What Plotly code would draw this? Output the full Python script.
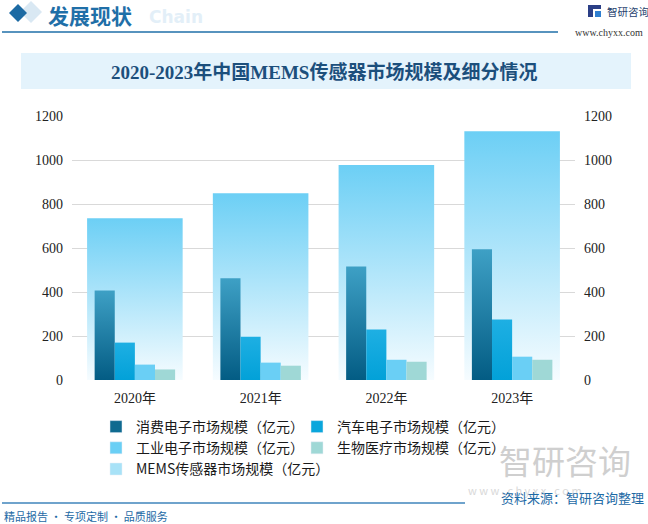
import plotly.graph_objects as go

# data (亿元)
years = ["2020年", "2021年", "2022年", "2023年"]
consumer = [407, 462, 516, 594]
auto = [170, 197, 229, 275]
industrial = [70, 79, 92, 106]
medical = [48, 65, 83, 92]
mems_total = [735, 849, 977, 1131]

series_names = [
    "消费电子市场规模（亿元）",
    "汽车电子市场规模（亿元）",
    "工业电子市场规模（亿元）",
    "生物医疗市场规模（亿元）",
]
mems_name = "MEMS传感器市场规模（亿元）"

CJK = "Noto Sans CJK SC"
SERIF = "Liberation Serif"

W, H = 648, 524
L, R, T, B = 72, 73, 116, 144


def px(x):
    """pixel column -> paper x"""
    return (x - L) / (W - L - R)


def py(y):
    """pixel row -> paper y"""
    return (H - B - y) / (H - T - B)


def bar_outline(i, value, offset, width):
    """Rectangle for category i, built from the data value."""
    x0, x1 = i + offset, i + offset + width
    return [x0, x0, x1, x1, x0], [0, value, value, 0, 0]


def gradient_bar(i, value, offset, width, bottom, top, xaxis, yaxis):
    xs, ys = bar_outline(i, value, offset, width)
    return go.Scatter(
        x=xs, y=ys, mode="none", fill="toself",
        fillgradient=dict(type="vertical", start=0, stop=value,
                          colorscale=[[0, bottom], [1, top]]),
        showlegend=False, hoverinfo="skip",
        xaxis=xaxis, yaxis=yaxis,
    )


fig = go.Figure()

# wide background bars: total MEMS market
for i, v in enumerate(mems_total):
    fig.add_trace(gradient_bar(i, v, -0.38, 0.76, "#f6fcff", "#6ccff5", "x", "y"))

# grouped segment bars (on overlay axes so they sit in front)
bw = 0.16
group_start = -2 * bw
styles = [
    ("#035c84", "#3ea0c5"),
    ("#02a1d8", "#1eafe3"),
    ("#6acff5", "#6acff5"),
    ("#9fd8d6", "#9fd8d6"),
]
for k, vals in enumerate([consumer, auto, industrial, medical]):
    bottom, top = styles[k]
    for i, v in enumerate(vals):
        fig.add_trace(gradient_bar(i, v, group_start + k * bw, bw, bottom, top, "x2", "y2"))

# legend entries
legend_colors = ["#0f6a90", "#0aa6dc", "#6acff5", "#9fd8d6", "#a8e2f7"]
for name, col in zip(series_names + [mems_name], legend_colors):
    fig.add_trace(go.Bar(x=[None], y=[None], name=name, marker_color=col,
                         xaxis="x2", yaxis="y2"))

axis_font = dict(family=SERIF, size=14, color="#222222")
fig.update_layout(
    width=W, height=H,
    margin=dict(l=L, r=R, t=T, b=B),
    paper_bgcolor="white", plot_bgcolor="white",
    barmode="overlay",
    xaxis=dict(range=[-0.5, 3.5], tickvals=list(range(len(years))), ticktext=years,
               showgrid=False, zeroline=False, showline=False, ticks="",
               ticklabelstandoff=8,
               tickfont=dict(family=SERIF + ", " + CJK, size=14, color="#222222")),
    xaxis2=dict(overlaying="x", matches="x", visible=False),
    yaxis=dict(range=[0, 1200], dtick=200, gridcolor="#d9d9d9", gridwidth=1,
               zeroline=False, showline=False, ticks="", ticklabelstandoff=8,
               tickfont=axis_font),
    yaxis2=dict(range=[0, 1200], dtick=200, overlaying="y", side="right",
                showgrid=False, zeroline=False, showline=False, ticks="",
                ticklabelstandoff=8, tickfont=axis_font),
    legend=dict(orientation="h", x=px(96), xanchor="left", y=py(411), yanchor="top",
                itemwidth=30, entrywidth=156, traceorder="normal",
                font=dict(family=CJK, size=14, color="#1a1a1a"),
                itemclick=False, tracegroupgap=0),
    showlegend=True,
)


def diamond(cx, cy, r, color):
    pts = [(cx, cy - r), (cx + r, cy), (cx, cy + r), (cx - r, cy)]
    d = "M " + " L ".join(f"{px(a)},{py(b)}" for a, b in pts) + " Z"
    return dict(type="path", xref="paper", yref="paper", path=d,
                fillcolor=color, line=dict(width=0))


def rect(x0, y0, x1, y1, color, layer="above"):
    return dict(type="rect", xref="paper", yref="paper",
                x0=px(x0), x1=px(x1), y0=py(y1), y1=py(y0),
                fillcolor=color, line=dict(width=0), layer=layer)


shapes = [
    diamond(31, 12, 11, "#d9e8f3"),
    diamond(18, 13, 9, "#1c6aa3"),
    # header rule
    dict(type="line", xref="paper", yref="paper", x0=px(2), x1=px(558), y0=py(32), y1=py(32),
         line=dict(color="#1f6fa8", width=1.5)),
    # header logo icon
    rect(588, 5, 593, 17, "#2b3f86"),
    rect(593, 5, 601, 9, "#2b3f86"),
    rect(595, 11, 601, 17, "#2f7fd0"),
    # title band
    rect(21, 53, 631, 89, "#e4f3fc", layer="below"),
    # watermark logo icon
    rect(467, 441, 476, 478, "#c9d6e6"),
    rect(476, 441, 492, 452, "#c9d6e6"),
    rect(480, 457, 492, 478, "#a9c3e0"),
    # footer rule
    dict(type="line", xref="paper", yref="paper", x0=px(2), x1=px(465), y0=py(503), y1=py(503),
         line=dict(color="#3f85bb", width=1.5)),
]
fig.update_layout(shapes=shapes)

ann = [
    dict(text="<b>Chain</b>", x=px(147), y=py(17), font=dict(family="DejaVu Sans", size=17, color="#e3eff8"),
         xanchor="left"),
    dict(text="<b>发展现状</b>", x=px(46), y=py(15),
         font=dict(family=CJK, size=21, color="#1f6fa8"), xanchor="left"),
    dict(text="智研咨询", x=px(605), y=py(12), font=dict(family=CJK, size=10.5, color="#1f3f6e"),
         xanchor="left"),
    dict(text="www.chyxx.com", x=px(645), y=py(33), font=dict(family=SERIF, size=10, color="#333333"),
         xanchor="right"),
    dict(text="<b>2020-2023年中国MEMS传感器市场规模及细分情况</b>", x=0.5, y=py(72),
         font=dict(family=SERIF + ", " + CJK, size=19, color="#1c4f7c"),
         xanchor="center"),
    # faint logo watermark bottom right
    dict(text="智研咨询", x=px(497), y=py(460), font=dict(family=CJK, size=33, color="#cfcfcf"),
         xanchor="left"),
    dict(text="w w w . c h y x x . c o m", x=px(466), y=py(490), font=dict(family=CJK, size=11, color="#d9d9d9"),
         xanchor="left"),
    dict(text="资料来源：智研咨询整理", x=px(646), y=py(497), font=dict(family=CJK, size=13, color="#1d6aa5"),
         xanchor="right"),
    dict(text="精品报告 · 专项定制 · 品质服务", x=px(2), y=py(516), font=dict(family=CJK, size=11, color="#1d6aa5"),
         xanchor="left"),
]
for a in ann:
    a.update(xref="paper", yref="paper", showarrow=False, yanchor="middle")
fig.update_layout(annotations=ann)

# page body margin would shift the 648x524 figure off the window
fig.write_html("out.html", config={"displayModeBar": False},
               post_script="document.body.style.margin='0';")
